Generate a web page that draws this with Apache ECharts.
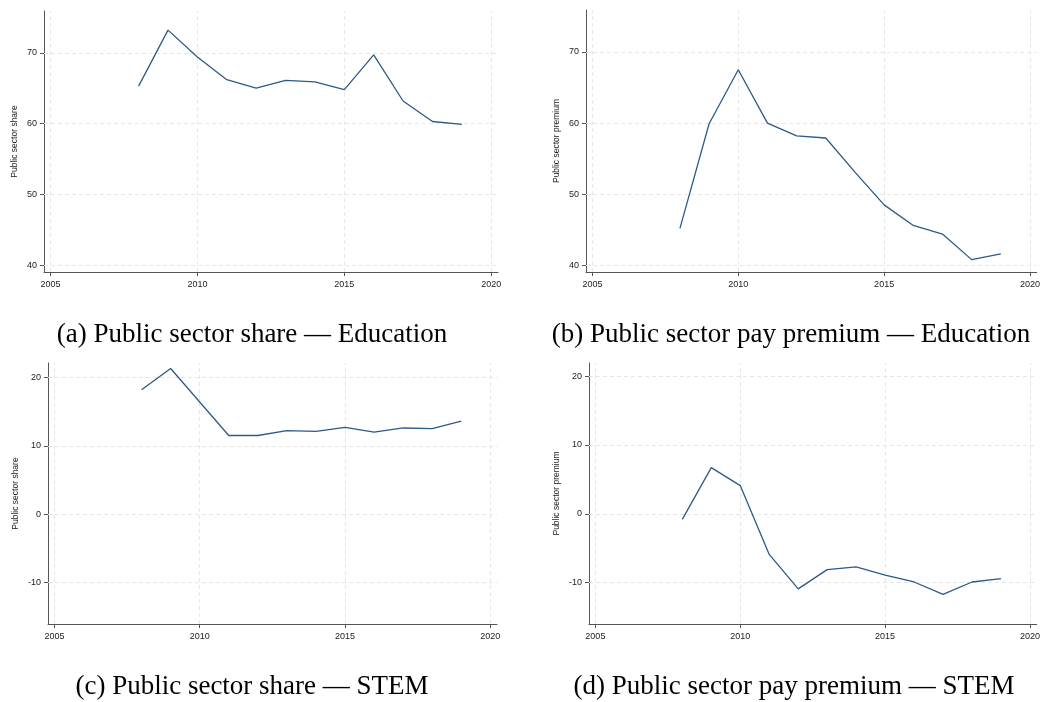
<!DOCTYPE html>
<html>
<head>
<meta charset="utf-8">
<title>Public sector share and pay premium</title>
<script src="https://cdn.jsdelivr.net/npm/echarts@6/dist/echarts.min.js"></script>
<style>
  html, body { margin: 0; padding: 0; background: #fff; }
  #chart { width: 1043px; height: 702px; }
</style>
</head>
<body>
<div id="chart"></div>
<script>
'use strict';

// data
var years = [2008, 2009, 2010, 2011, 2012, 2013, 2014, 2015, 2016, 2017, 2018, 2019];
var shareEdu = [65.3, 73.2, 69.4, 66.2, 65.0, 66.1, 65.9, 64.8, 69.7, 63.2, 60.3, 59.9];
var premiumEdu = [45.2, 59.9, 67.5, 60.0, 58.2, 57.9, 53.1, 48.5, 45.6, 44.4, 40.8, 41.6];
var shareStem = [18.2, 21.3, 16.4, 11.5, 11.5, 12.2, 12.1, 12.7, 12.0, 12.6, 12.5, 13.6];
var premiumStem = [-0.8, 6.7, 4.1, -5.9, -10.9, -8.1, -7.7, -8.9, -9.9, -11.7, -9.9, -9.4];

var xTicks = [2005, 2010, 2015, 2020];
var yTicksEdu = [40, 50, 60, 70];
var yTicksStem = [-10, 0, 10, 20];

var captions = [
    '(a) Public sector share \u2014 Education',
    '(b) Public sector pay premium \u2014 Education',
    '(c) Public sector share \u2014 STEM',
    '(d) Public sector pay premium \u2014 STEM'
];
var yTitles = ['Public sector share', 'Public sector premium', 'Public sector share', 'Public sector premium'];

// panel layout
var panels = [
    {values: shareEdu, yTicks: yTicksEdu, ymin: 39.06, ymax: 75.9, left: 44, top: 11, width: 454, height: 261, gap: 25, cx: 252, cy: 335},
    {values: premiumEdu, yTicks: yTicksEdu, ymin: 39.06, ymax: 75.9, left: 586, top: 10, width: 453, height: 262, gap: 24.5, cx: 791, cy: 335},
    {values: shareStem, yTicks: yTicksStem, ymin: -16.06, ymax: 22.1, left: 48, top: 363, width: 449, height: 261, gap: 28, cx: 252, cy: 687},
    {values: premiumStem, yTicks: yTicksStem, ymin: -16.0, ymax: 21.9, left: 589, top: 363, width: 450, height: 261, gap: 27.5, cx: 794, cy: 687}
];

var axisColor = '#555555';
var textColor = '#222222';
var gridColor = '#e6e6e6';
var lineColor = '#2d5a88';
var sans = 'Liberation Sans, Arial, sans-serif';

var plain = function (v) {
    return String(v);
};

var grids = [], xAxes = [], yAxes = [], series = [], graphics = [];

panels.forEach(function (p, i) {
    grids.push({left: p.left, top: p.top, width: p.width, height: p.height, containLabel: false});

    xAxes.push({
        type: 'value',
        gridIndex: i,
        min: 2004.78,
        max: 2020.23,
        axisLine: {show: true, onZero: false, lineStyle: {color: axisColor, width: 1}},
        axisTick: {show: true, inside: false, length: 4, customValues: xTicks, lineStyle: {color: axisColor}},
        axisLabel: {customValues: xTicks, formatter: plain, margin: 8, fontSize: 9, fontFamily: sans, color: textColor},
        splitLine: {show: false}
    });

    yAxes.push({
        type: 'value',
        gridIndex: i,
        min: p.ymin,
        max: p.ymax,
        name: yTitles[i],
        nameLocation: 'middle',
        nameGap: p.gap,
        nameTextStyle: {fontSize: 8.5, fontFamily: sans, color: textColor},
        axisLine: {show: true, onZero: false, lineStyle: {color: axisColor, width: 1}},
        axisTick: {show: true, inside: false, length: 4, customValues: p.yTicks, lineStyle: {color: axisColor}},
        axisLabel: {customValues: p.yTicks, formatter: plain, margin: 7, fontSize: 9, fontFamily: sans, color: textColor},
        splitLine: {show: false}
    });

    var pts = years.map(function (y, k) {
        return [y, p.values[k]];
    });

    var guides = xTicks.map(function (v) {
        return {xAxis: v};
    }).concat(p.yTicks.map(function (v) {
        return {yAxis: v};
    }));

    series.push({
        type: 'line',
        xAxisIndex: i,
        yAxisIndex: i,
        data: pts,
        showSymbol: false,
        symbol: 'none',
        lineStyle: {color: lineColor, width: 1.3},
        z: 3,
        markLine: {
            silent: true,
            symbol: 'none',
            z: 1,
            label: {show: false},
            lineStyle: {type: [4, 3], color: gridColor, width: 1},
            data: guides
        }
    });

    graphics.push({
        type: 'text',
        x: p.cx,
        y: p.cy,
        style: {
            text: captions[i],
            align: 'center',
            verticalAlign: 'middle',
            fontSize: 27,
            fontFamily: 'Liberation Serif, Times New Roman, serif',
            fill: '#000'
        }
    });
});

var myChart = echarts.init(document.getElementById('chart'));
myChart.setOption({
    animation: false,
    backgroundColor: '#fff',
    grid: grids,
    xAxis: xAxes,
    yAxis: yAxes,
    series: series,
    graphic: graphics
});
</script>
</body>
</html>
